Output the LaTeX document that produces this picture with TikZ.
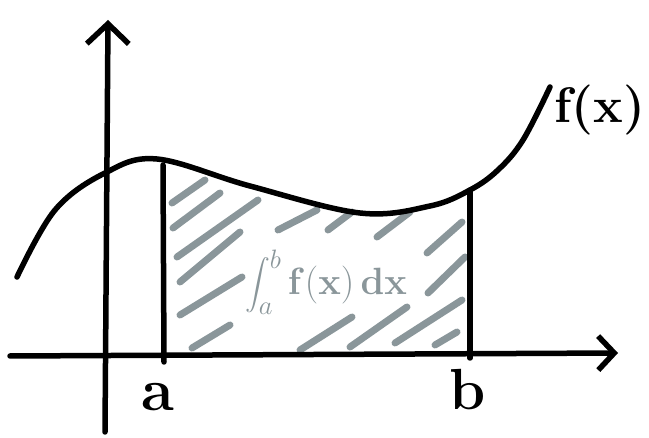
\documentclass[tikz,border=0pt]{standalone}
\usepackage{fix-cm}
\usepackage{amsmath}
\usepackage{xcolor}
\usepackage{tikz}
\usetikzlibrary{positioning, arrows.meta}
\definecolor{hatchgray}{RGB}{138,150,154}

\begin{document}
\begin{tikzpicture}[x=1pt, y=-1pt, line cap=round, line join=round, every node/.style={inner sep=0pt}]
  \useasboundingbox (0,0) rectangle (649,438);
  % hatching of the area
  \foreach \xa/\ya/\xb/\yb in {172/203/205/180, 173/228/220/193, 177/257/258/200, 180/282/240/232,
      180/315/242/277, 192/348/230/325, 278/230/317/210, 328/230/352/212, 377/237/410/212,
      427/253/462/222, 428/293/465/257, 395/343/462/300, 435/345/457/332, 300/350/352/317,
      350/347/407/307}
    \draw[hatchgray, line width=7pt] (\xa,\ya) -- (\xb,\yb);
  % axes
  \coordinate (xs) at (10,356);
  \coordinate (xe) at (618,353);
  \coordinate (ys) at (105,432);
  \coordinate (ye) at (108,20);
  \draw[line width=5.5pt, -{Straight Barb[length=16pt, width=34pt]}] (xs) -- (xe);
  \draw[line width=5.5pt, -{Straight Barb[length=20pt, width=42pt]}] (ys) -- (ye);
  % curve and bounds
  \draw[line width=5.5pt] plot[smooth, tension=0.6] coordinates {(17,277) (55,210) (105,173)
      (157,159) (250,186) (360,213) (430,206) (470,190) (498,170) (523,140) (550,87)};
  \coordinate (atop) at (163,165);
  \coordinate (abot) at (164,362);
  \coordinate (btop) at (470,190);
  \coordinate (bbot) at (470,358);
  \draw[line width=5.5pt] (atop) -- (abot);
  \draw[line width=5.5pt] (btop) -- (bbot);
  % labels
  \node[font=\fontsize{60}{60}\selectfont\bfseries] (lbla) at (158,397) {a};
  \node[font=\fontsize{58}{58}\selectfont\bfseries] (lblb) at (468,390) {b};
  \node[font=\fontsize{50}{50}\selectfont\bfseries] (lblf) at (600,110) {f(x)};
  \node[text=hatchgray, font=\fontsize{38}{38}\selectfont] (integral) at (326,282) {$\displaystyle\int_a^b \mathbf{f(x)\,dx}$};
\end{tikzpicture}
\end{document}
